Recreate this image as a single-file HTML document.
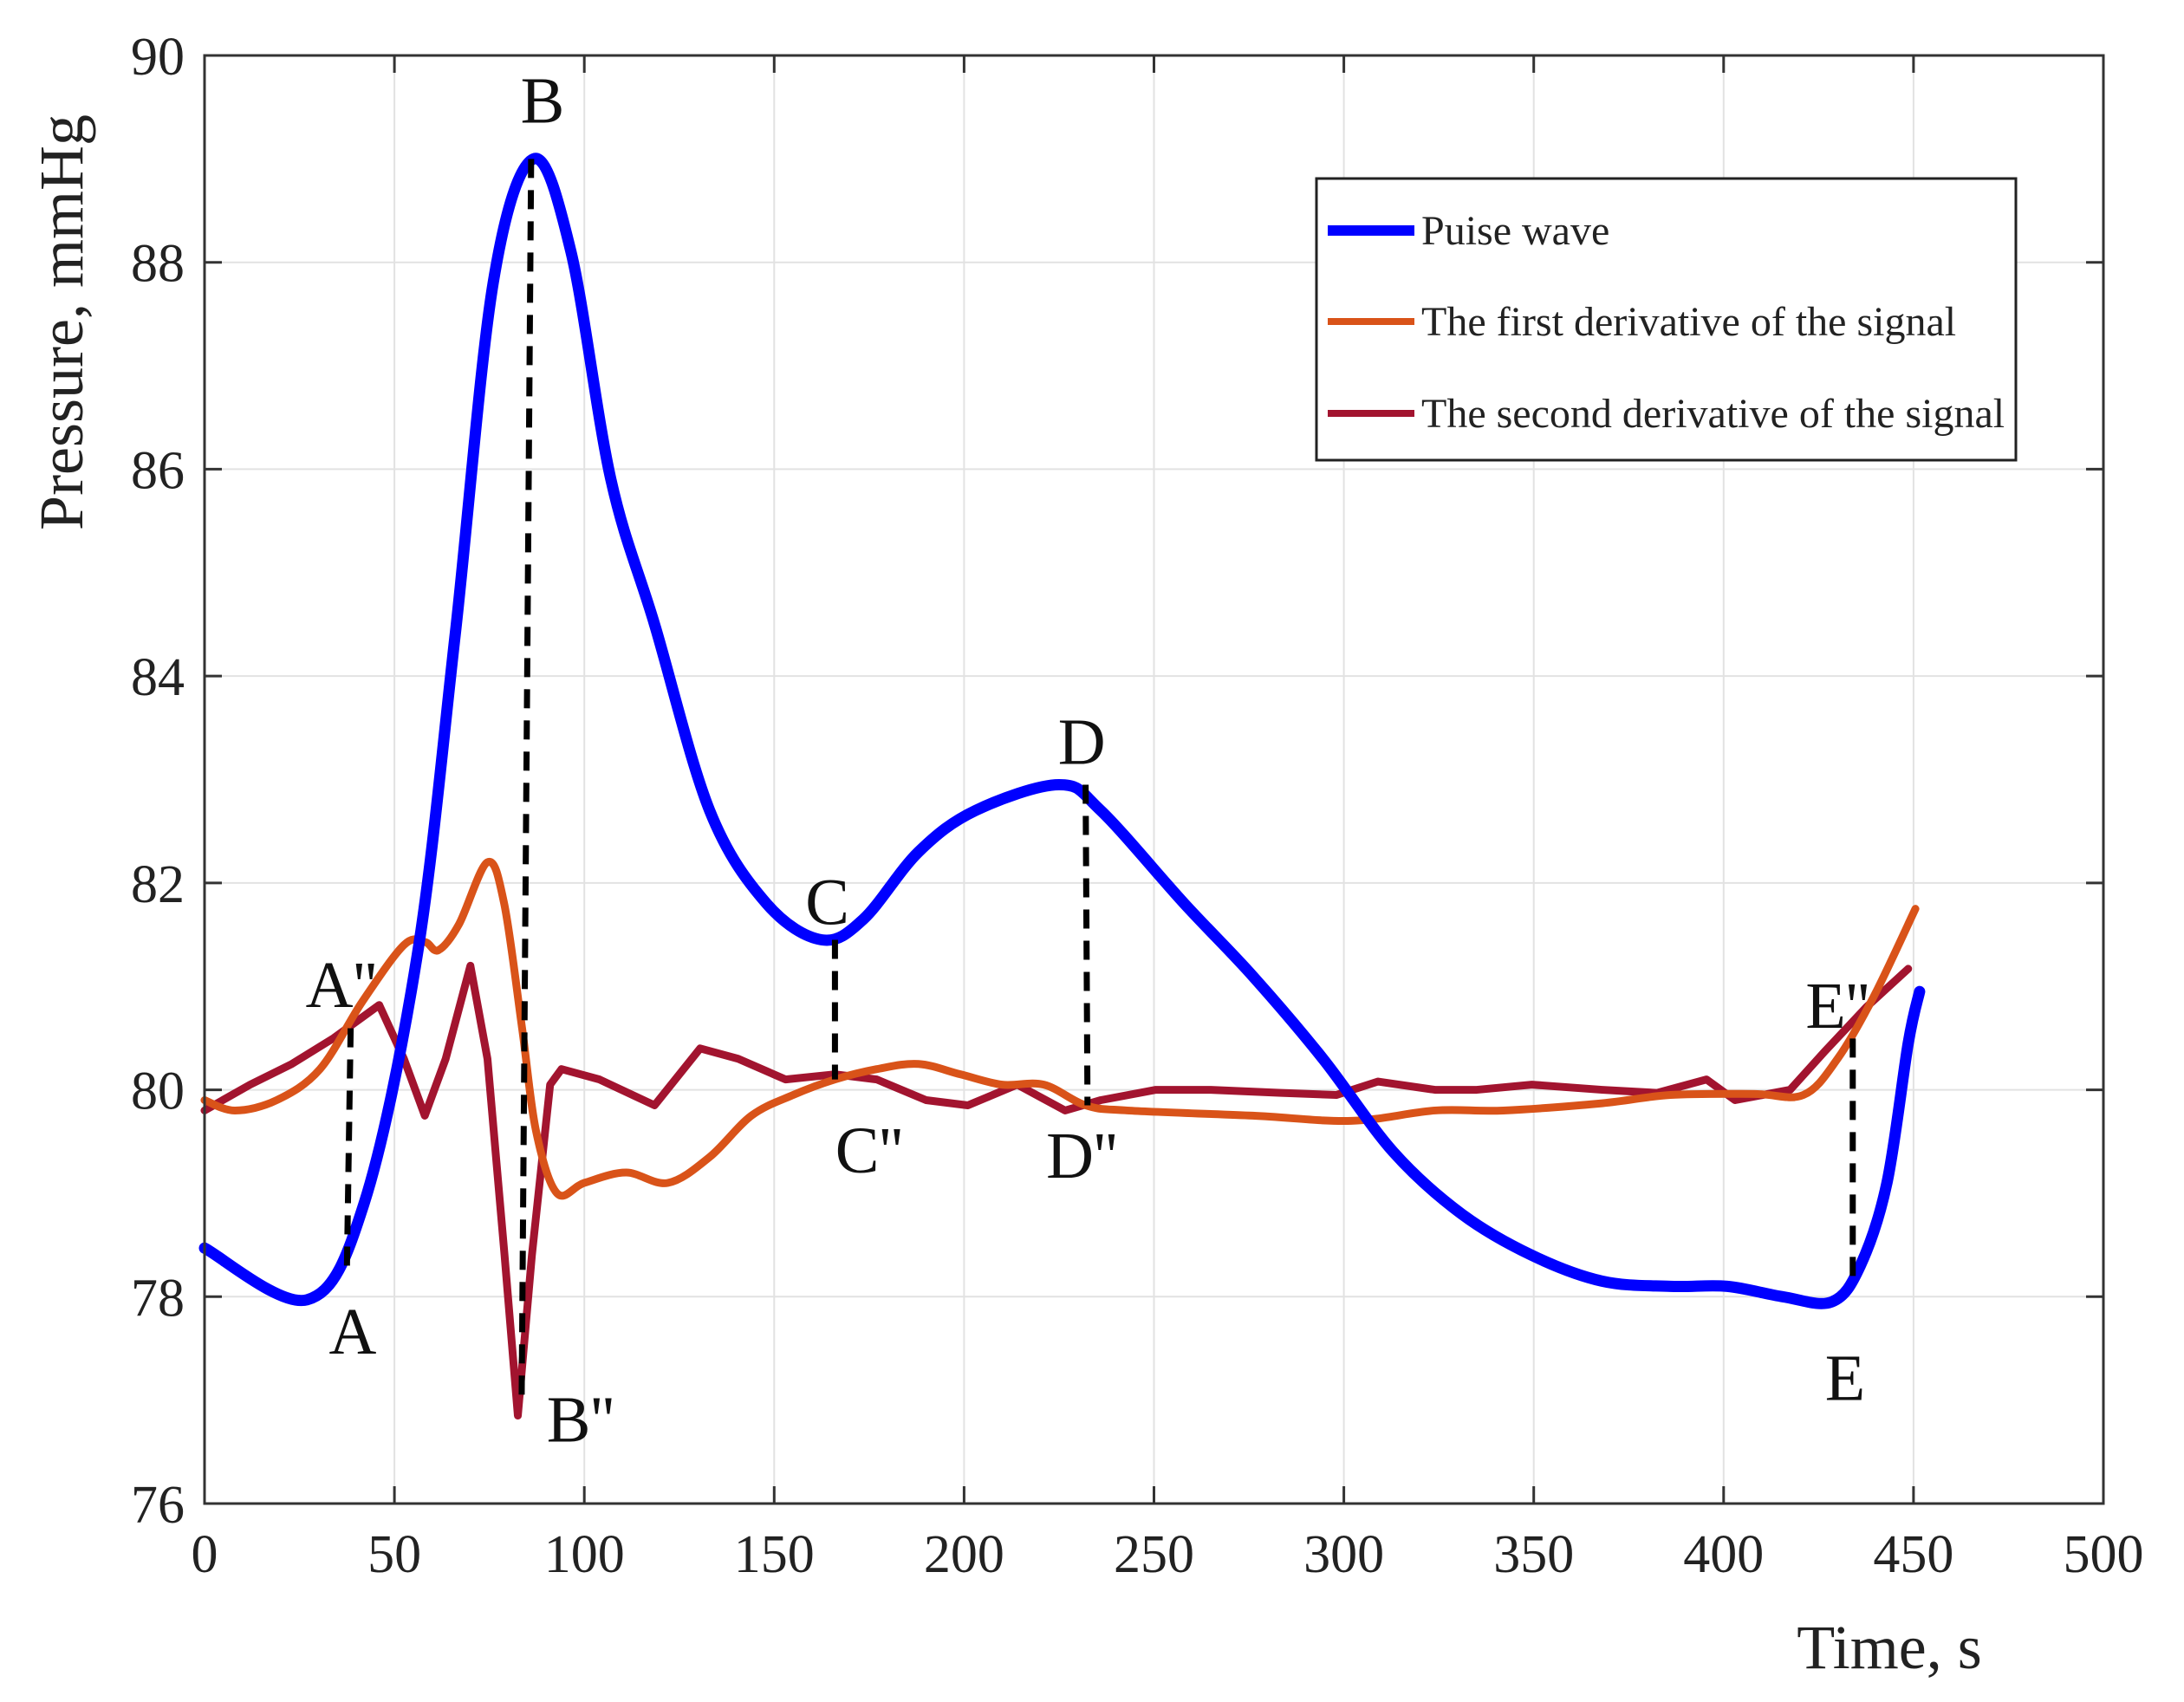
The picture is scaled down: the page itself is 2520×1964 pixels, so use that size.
<!DOCTYPE html>
<html><head><meta charset="utf-8"><style>
html,body{margin:0;padding:0;background:#fff;}
svg{display:block;font-family:"Liberation Serif",serif;}
</style></head><body>
<svg id="chart" width="2520" height="1964" viewBox="0 0 2520 1964" xmlns="http://www.w3.org/2000/svg">
<rect width="2520" height="1964" fill="#fff"/>
<g id="grid"></g>
<g id="series"></g>
<g id="marks"></g>
<rect x="236" y="64" width="2191" height="1671" fill="none" stroke="#333" stroke-width="3"/>
<g id="ticks"></g>
<text x="95" y="372" font-size="72" fill="#222" text-anchor="middle" transform="rotate(-90 95 372)">Pressure, mmHg</text>
<text x="2180" y="1925" font-size="72" fill="#222" text-anchor="middle">Time, s</text>
<g>
<rect x="1519" y="206" width="807" height="325" fill="#fff" stroke="#222" stroke-width="3"/>
<g><line x1="1532" y1="266" x2="1632" y2="266" stroke="#0000ff" stroke-width="12"/><text x="1640" y="282" font-size="48" fill="#222">Puise wave</text></g>
<g><line x1="1532" y1="371" x2="1632" y2="371" stroke="#d95319" stroke-width="8"/><text x="1640" y="387" font-size="48" fill="#222">The first derivative of the signal</text></g>
<g><line x1="1532" y1="477" x2="1632" y2="477" stroke="#a2142f" stroke-width="8"/><text x="1640" y="493" font-size="48" fill="#222">The second derivative of the signal</text></g>
</g>
</svg>
<script>
const xTicks=[0,50,100,150,200,250,300,350,400,450,500];
const yTicks=[76,78,80,82,84,86,88,90];
const pulseX=[0,27,42,56,66,76,86.6,96.5,107,118.5,133,148,162.5,173.5,188,203,225,236,258,276,294.5,313,331,349.5,368,386,401,415.5,428.5,436,443,448.6,451.6];
const pulseY=[78.47,77.97,78.9,81.3,84.4,87.8,89,88.1,85.9,84.5,82.7,81.8,81.45,81.65,82.3,82.7,82.95,82.7,81.8,81.1,80.3,79.4,78.8,78.4,78.15,78.1,78.1,78.0,77.95,78.3,79.1,80.45,80.95];
const firstX=[0,8,19,30.4,41.5,52.5,58,61.6,67,74.5,78.9,83.6,87.3,92.8,100,111,122,133,144,155,166,177,188,199,210,221,232,243,276,302,324,342,368,386,408,421,430,439.5,450.5];
const firstY=[79.9,79.8,79.9,80.2,80.85,81.4,81.43,81.35,81.6,82.2,81.8,80.6,79.6,79.0,79.1,79.2,79.1,79.35,79.75,79.95,80.1,80.2,80.25,80.15,80.05,80.05,79.85,79.8,79.75,79.7,79.8,79.8,79.87,79.95,79.96,79.95,80.3,80.9,81.75];
const secondX=[0,12,23,34,46,52.5,58,63.5,70,74.5,79,82.5,86.2,91,94,104,118.5,130.5,140.5,153,166,177,190,201,214,226.6,236,250.5,265,283.5,298,309,324,335,349.5,368,382.5,395.5,403,417.5,426.6,437.6,448.6];
const secondY=[79.8,80.05,80.25,80.5,80.82,80.3,79.75,80.3,81.2,80.3,78.4,76.85,78.4,80.05,80.2,80.1,79.85,80.4,80.3,80.1,80.15,80.1,79.9,79.85,80.05,79.8,79.9,80.0,80.0,79.97,79.95,80.08,80.0,80.0,80.05,80.0,79.97,80.1,79.9,80.0,80.37,80.8,81.17];
const markLabels=["A","A''","B","B''","C","C''","D","D''","E","E''"];
const markLabelX=[39,36,89,99,164,175,231,231,432,430];
const markLabelY=[77.45,80.8,89.35,76.6,81.6,79.2,83.15,79.15,77.0,80.6];
const dropX1=[37.5,86,166,232,434];
const dropY1=[78.3,89,81.45,82.95,78.2];
const dropX2=[38.5,83.5,166,232.5,434];
const dropY2=[80.65,77,80.1,79.85,80.55];

const X0=236,X1=2427,Y0=1735,Y1=64;
const sx=v=>X0+(v-0)/(500-0)*(X1-X0);
const sy=v=>Y0-(v-76)/(90-76)*(Y0-Y1);
const NS="http://www.w3.org/2000/svg";
function mk(tag,attrs,parent){const e=document.createElementNS(NS,tag);for(const k in attrs)e.setAttribute(k,attrs[k]);parent.appendChild(e);return e;}
const grid=document.getElementById('grid'),ticks=document.getElementById('ticks'),series=document.getElementById('series'),marks=document.getElementById('marks');
xTicks.forEach(t=>{const x=sx(t);
 const g=mk('line',{x1:x,x2:x,y1:Y1,y2:Y0,stroke:'#e2e2e2','stroke-width':2},grid);
 
 
 const tk=mk('line',{x1:x,x2:x,y1:Y0,y2:Y0-20,stroke:'#333','stroke-width':3},ticks);
 
 
 const tk2=mk('line',{x1:x,x2:x,y1:Y1,y2:Y1+20,stroke:'#333','stroke-width':3},ticks);
 
 
 const l=mk('text',{x:x,y:1814,'font-size':62,'text-anchor':'middle',fill:'#222'},ticks);l.textContent=t;
 
 
});
yTicks.forEach(t=>{const y=sy(t);
 const g=mk('line',{x1:X0,x2:X1,y1:y,y2:y,stroke:'#e2e2e2','stroke-width':2},grid);
 
 
 const tk=mk('line',{x1:X0,x2:X0+20,y1:y,y2:y,stroke:'#333','stroke-width':3},ticks);
 
 
 const tk2=mk('line',{x1:X1-20,x2:X1,y1:y,y2:y,stroke:'#333','stroke-width':3},ticks);
 
 
 const l=mk('text',{x:213,y:y+22,'font-size':62,'text-anchor':'end',fill:'#222'},ticks);l.textContent=t;
 
 
});
function smoothPath(xs,ys){const p=xs.map((x,i)=>[sx(x),sy(ys[i])]);let d='M'+p[0][0]+','+p[0][1];
 for(let i=0;i<p.length-1;i++){const a=p[i-1]||p[i],b=p[i],c=p[i+1],e=p[i+2]||c;
  d+=' C'+(b[0]+(c[0]-a[0])/6)+','+(b[1]+(c[1]-a[1])/6)+' '+(c[0]-(e[0]-b[0])/6)+','+(c[1]-(e[1]-b[1])/6)+' '+c[0]+','+c[1];}
 return d;}
function linePath(xs,ys){return xs.map((x,i)=>(i?'L':'M')+sx(x)+','+sy(ys[i])).join(' ');}
const s2=mk('path',{d:linePath(secondX,secondY),fill:'none',stroke:'#a2142f','stroke-width':9,'stroke-linejoin':'round','stroke-linecap':'round'},series);


const s1=mk('path',{d:smoothPath(firstX,firstY),fill:'none',stroke:'#d95319','stroke-width':9,'stroke-linejoin':'round','stroke-linecap':'round'},series);


const s0=mk('path',{d:smoothPath(pulseX,pulseY),fill:'none',stroke:'#0000ff','stroke-width':13,'stroke-linejoin':'round','stroke-linecap':'round'},series);


dropX1.forEach((x,i)=>{const d=mk('line',{x1:sx(x),y1:sy(dropY1[i]),x2:sx(dropX2[i]),y2:sy(dropY2[i]),stroke:'#000','stroke-width':7,'stroke-dasharray':'22,14'},marks);
 
 
});
markLabels.forEach((t,i)=>{const l=mk('text',{x:sx(markLabelX[i]),y:sy(markLabelY[i]),'font-size':76,'text-anchor':'middle',fill:'#111'},marks);l.textContent=t;
 
 
});
</script>
</body></html>
